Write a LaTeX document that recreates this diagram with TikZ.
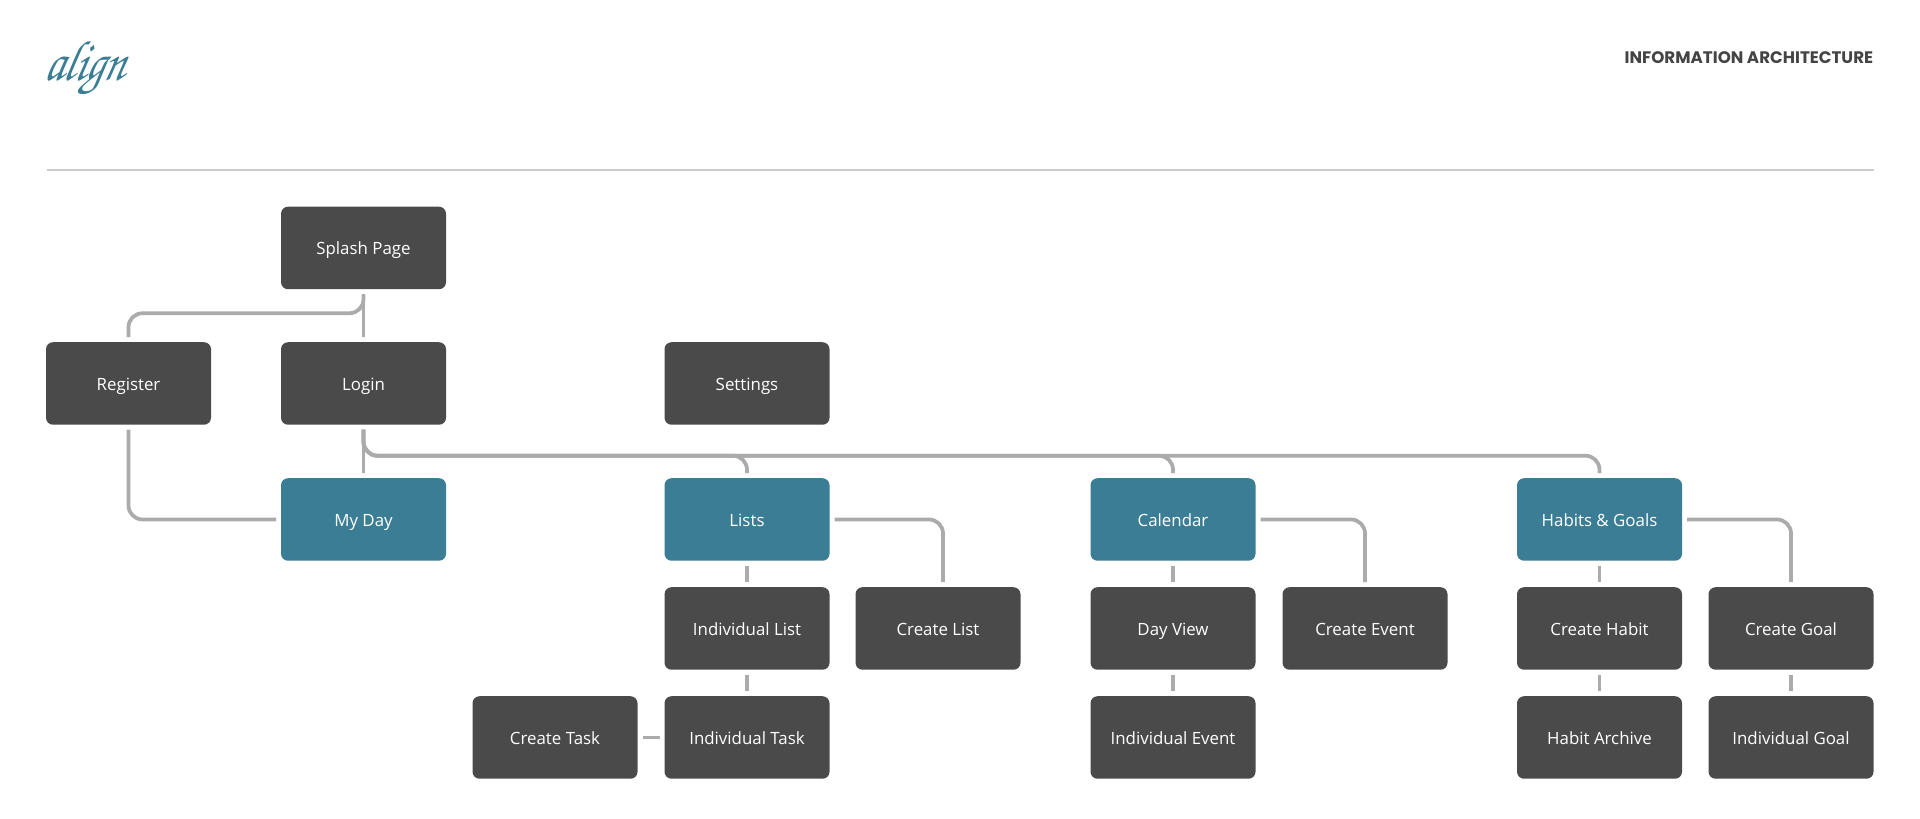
\documentclass[tikz,border=0pt]{standalone}
\usepackage[T1]{fontenc}
\usepackage{fontspec}
\setmainfont{Open Sans}
\newfontfamily\headfont{Poppins}
\usetikzlibrary{calc,positioning}
\definecolor{boxgrey}{HTML}{4A4A4A}
\definecolor{boxteal}{HTML}{3A7D95}
\definecolor{linkgrey}{HTML}{ABABAB}
\definecolor{rulegrey}{HTML}{CCCCCC}
\definecolor{headgrey}{HTML}{444444}

\begin{document}
\begin{tikzpicture}[
  pagebox/.style={fill=boxgrey, text=white, rounded corners=1.4mm, inner sep=0pt,
                  outer sep=1mm, minimum width=3.3cm, minimum height=1.65cm,
                  text height=3.3mm, text depth=0.5mm,
                  font=\fontsize{9.6}{12}\selectfont},
  mainbox/.style={pagebox, fill=boxteal},
  link/.style={draw=linkgrey, line width=0.75mm, rounded corners=2.8mm},
  rulerline/.style={draw=rulegrey, line width=0.4mm}
]
  \useasboundingbox (0,0) rectangle (38.4,16.38);

  % header
  \node[text=boxteal, inner sep=0pt, transform shape, yscale=1.25, xslant=0.3, font=\fontsize{26}{30}\usefont{T1}{pzc}{m}{it}] (logo) at (1.72,15.0) {align};
  \node[text=headgrey, inner sep=0pt, anchor=east, font=\fontsize{9.5}{14}\headfont\bfseries] (title) at (37.47,15.23) {INFORMATION ARCHITECTURE};
  \coordinate (ruleleft) at (0.93,12.97);
  \coordinate (ruleright) at (37.47,12.97);
  \draw[rulerline] (ruleleft) -- (ruleright);

  % first rows
  \node[pagebox] (splash) at (7.27,11.42) {Splash Page};
  \node[pagebox] (register) at (2.57,8.71) {Register};
  \node[pagebox] (login) at (7.27,8.71) {Login};
  \node[pagebox] (settings) at (14.94,8.71) {Settings};

  % main sections
  \node[mainbox] (myday) at (7.27,5.99) {My Day};
  \node[mainbox] (lists) at (14.94,5.99) {Lists};
  \node[mainbox] (calendar) at (23.46,5.99) {Calendar};
  \node[mainbox] (habits) at (31.99,5.99) {Habits \& Goals};

  % sub pages
  \node[pagebox] (indlist) at (14.94,3.81) {Individual List};
  \node[pagebox] (createlist) at (18.76,3.81) {Create List};
  \node[pagebox] (dayview) at (23.46,3.81) {Day View};
  \node[pagebox] (createevent) at (27.3,3.81) {Create Event};
  \node[pagebox] (createhabit) at (31.99,3.81) {Create Habit};
  \node[pagebox] (creategoal) at (35.82,3.81) {Create Goal};
  \node[pagebox] (createtask) at (11.1,1.63) {Create Task};
  \node[pagebox] (indtask) at (14.94,1.63) {Individual Task};
  \node[pagebox] (indevent) at (23.46,1.63) {Individual Event};
  \node[pagebox] (archive) at (31.99,1.63) {Habit Archive};
  \node[pagebox] (indgoal) at (35.82,1.63) {Individual Goal};

  \draw[link] (splash.south) -- (login.north);
  \draw[link] (splash.south) -- ++(0,-0.38) -| (register.north);
  \draw[link] (register.south) |- (myday.west);
  \draw[link] (login.south) -- (myday.north);
  \draw[link] (login.south) -- ++(0,-0.52) -| (lists.north);
  \draw[link] (login.south) -- ++(0,-0.52) -| (calendar.north);
  \draw[link] (login.south) -- ++(0,-0.52) -| (habits.north);

  \draw[link] (lists.east) -| ([xshift=1mm]createlist.north);
  \draw[link] (lists.south) -- (indlist.north);
  \draw[link] (indlist.south) -- (indtask.north);
  \draw[link] (createtask.east) -- (indtask.west);

  \draw[link] (calendar.east) -| (createevent.north);
  \draw[link] (calendar.south) -- (dayview.north);
  \draw[link] (dayview.south) -- (indevent.north);

  \draw[link] (habits.east) -| (creategoal.north);
  \draw[link] (habits.south) -- (createhabit.north);
  \draw[link] (createhabit.south) -- (archive.north);
  \draw[link] (creategoal.south) -- (indgoal.north);
\end{tikzpicture}
\end{document}
